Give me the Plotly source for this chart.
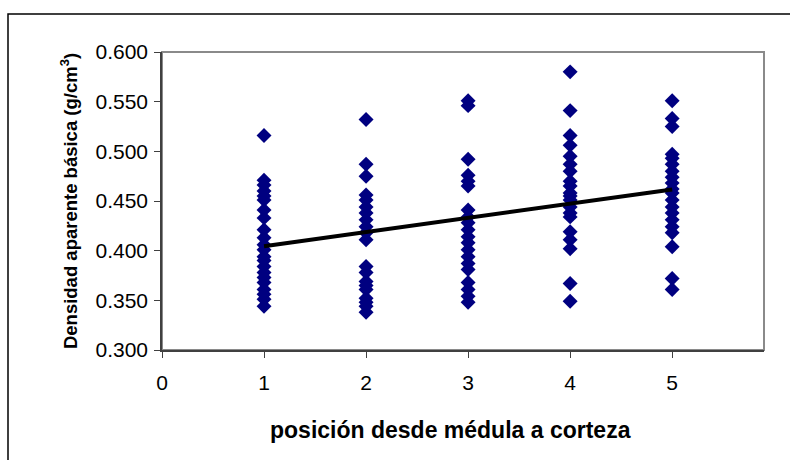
import numpy as np
import plotly.graph_objects as go

# Basic apparent density (g/cm3) per radial position, pith (1) to bark (5)
pos_1 = [0.516, 0.471, 0.466, 0.460, 0.455, 0.451, 0.441, 0.433, 0.421, 0.413,
         0.406, 0.401, 0.394, 0.390, 0.384, 0.378, 0.373, 0.368, 0.361, 0.356,
         0.351, 0.344]
pos_2 = [0.532, 0.487, 0.475, 0.456, 0.451, 0.444, 0.438, 0.431, 0.424, 0.418,
         0.411, 0.384, 0.378, 0.369, 0.365, 0.361, 0.352, 0.348, 0.344, 0.338]
pos_3 = [0.551, 0.546, 0.492, 0.476, 0.470, 0.465, 0.441, 0.434, 0.428, 0.421,
         0.414, 0.408, 0.401, 0.394, 0.387, 0.381, 0.368, 0.361, 0.354, 0.348]
pos_4 = [0.580, 0.541, 0.516, 0.506, 0.495, 0.487, 0.480, 0.470, 0.465, 0.458,
         0.455, 0.451, 0.444, 0.438, 0.434, 0.419, 0.411, 0.402, 0.367, 0.349]
pos_5 = [0.551, 0.533, 0.525, 0.497, 0.493, 0.487, 0.480, 0.474, 0.468, 0.462,
         0.458, 0.451, 0.444, 0.438, 0.431, 0.424, 0.418, 0.404, 0.372, 0.361]

positions = [1, 2, 3, 4, 5]
groups = [pos_1, pos_2, pos_3, pos_4, pos_5]

x_tick_vals = [0, 1, 2, 3, 4, 5]
y_tick_vals = [0.300, 0.350, 0.400, 0.450, 0.500, 0.550, 0.600]

x_title = "posición desde médula a corteza"
y_title = "Densidad aparente básica (g/cm<sup>3</sup>)"

xs = np.concatenate([[p] * len(g) for p, g in zip(positions, groups)])
ys = np.concatenate(groups)

# Linear trend over all samples
slope, intercept = np.polyfit(xs, ys, 1)
trend_x = np.array([positions[0], positions[-1]])
trend_y = slope * trend_x + intercept

FONT = "Liberation Sans, Arial, sans-serif"

fig = go.Figure()
fig.add_trace(go.Scatter(
    x=xs, y=ys, mode="markers",
    marker=dict(symbol="diamond", size=11.5, color="#000080", line=dict(width=0)),
    showlegend=False, hoverinfo="x+y",
))
fig.add_trace(go.Scatter(
    x=trend_x, y=trend_y, mode="lines",
    line=dict(color="black", width=4),
    showlegend=False, hoverinfo="skip",
))

fig.update_layout(
    width=790, height=460,
    margin=dict(l=162, r=26, t=52, b=110),
    paper_bgcolor="white", plot_bgcolor="white",
    font=dict(family=FONT, size=19, color="black"),
    xaxis=dict(
        range=[0, 5.9], tickvals=x_tick_vals, showgrid=False, zeroline=False,
        showline=True, linecolor="#404040", linewidth=1.5,
        ticks="outside", ticklen=6, tickcolor="#404040",
        tickfont=dict(size=21), ticklabelstandoff=7, fixedrange=True,
    ),
    yaxis=dict(
        range=[0.3, 0.6], tickvals=y_tick_vals, tickformat=".3f",
        showgrid=False, zeroline=False,
        showline=True, linecolor="#404040", linewidth=1.5,
        ticks="outside", ticklen=6, tickcolor="#404040",
        tickfont=dict(size=21), ticklabelstandoff=2, fixedrange=True,
        title=dict(text=f"<b>{y_title}</b>", font=dict(size=18.5), standoff=13),
    ),
    annotations=[
        dict(text=f"<b>{x_title}</b>", xref="paper", yref="paper",
             x=0.48, y=-0.268, xanchor="center", yanchor="middle",
             showarrow=False, font=dict(size=23)),
    ],
    shapes=[
        # plot area frame
        dict(type="rect", xref="paper", yref="paper", x0=0, y0=0, x1=1, y1=1,
             line=dict(color="#8a8a8a", width=2), layer="below"),
        # chart area frame
        dict(type="rect", xref="paper", yref="paper",
             x0=(8 - 162) / 602, y0=(350 - 470) / 298,
             x1=(800 - 162) / 602, y1=(350 - 14) / 298,
             line=dict(color="black", width=1.5), layer="below"),
    ],
)

fig.write_html("out.html")
